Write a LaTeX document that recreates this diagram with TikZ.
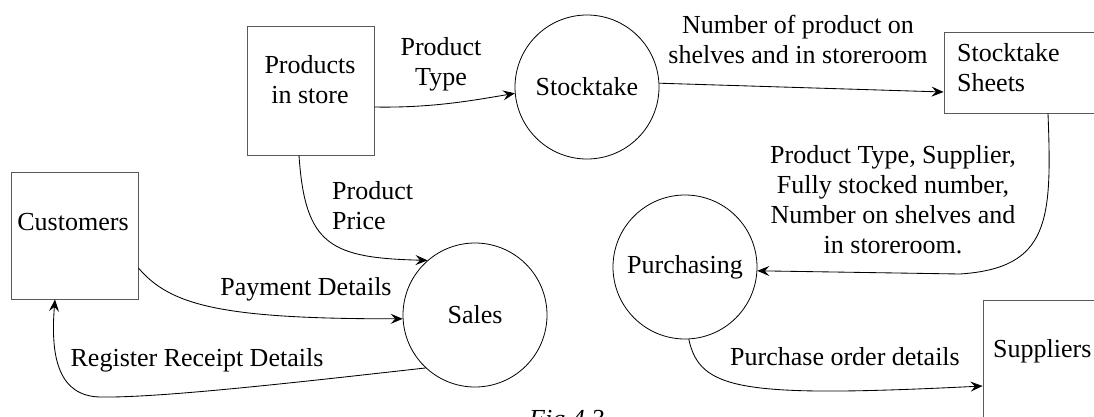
\documentclass[tikz,border=0pt]{standalone}
\usepackage{fontspec}
\setmainfont{Liberation Serif}
\usetikzlibrary{arrows.meta}
\begin{document}
\begin{tikzpicture}[x=1pt,y=-1pt,
  every node/.style={font=\fontsize{26}{30}\selectfont, inner sep=0pt},
  store/.style={draw=black!65, line width=0.9pt, rectangle},
  proc/.style={draw=black, line width=0.8pt, circle, minimum size=144pt},
  flow/.style={draw=black, line width=0.85pt, -{Stealth[length=12pt,width=10pt,inset=4.5pt]}},
  lbl/.style={align=center}]
\useasboundingbox (0,0) rectangle (1094,416);
\clip (0,0) rectangle (1094,416);

% external entities and data stores
\node[store, minimum width=127pt, minimum height=129pt] (prod) at (310.5,90.5) {};
\node[lbl] (prodt) at (310,80) {Products\\in store};
\node[store, minimum width=127pt, minimum height=127pt] (cust) at (74.5,235.5) {};
\node (custt) at (73,222) {Customers};
\node[store, minimum width=166pt, minimum height=81pt] (sheets) at (1027,72.5) {};
\node[align=left, anchor=west] (sheetst) at (957,68) {Stocktake\\Sheets};
\node[store, minimum width=127pt, minimum height=140pt] (sup) at (1046.5,370) {};
\node[anchor=west] (supt) at (993,351) {Suppliers};

% processes
\node[proc] (stock) at (587,87) {Stocktake};
\node[proc] (sales) at (475,315) {Sales};
\node[proc] (purch) at (685,267) {Purchasing};

% data flows
\draw[flow] ([yshift=-16.5pt]prod.east) .. controls (430,108) and (470,101) .. (stock.185);
\draw[flow] ([xshift=-11.5pt]prod.south) .. controls (305,245) and (330,258) .. (sales.131);
\draw[flow] ([yshift=-32.5pt]cust.east) .. controls (170,305) and (220,319) .. (sales.183);
\draw[flow] (sales.227) .. controls (300,382) and (160,398) .. (100,397)
  .. controls (60,396) and (50,360) .. ([xshift=-19.5pt]cust.south);
\draw[flow] (stock.3) -- ([yshift=-19.5pt]sheets.west);
\draw[flow] ([xshift=21pt]sheets.south) .. controls (1052,220) and (1050,268) .. (960,274)
  -- (purch.-3);
\draw[flow] (purch.-87) .. controls (700,390) and (740,398) .. ([yshift=-16pt]sup.west);

% flow labels
\node[lbl] (l1) at (441,64) {Product\\Type};
\node[align=left, anchor=west] (l2) at (332,206) {Product\\Price};
\node (l3) at (306,289) {Payment Details};
\node (l4) at (197,360) {Register Receipt Details};
\node[lbl] (l5) at (798,39) {Number of product on\\shelves and in storeroom};
\node[lbl] (l6) at (893,200) {Product Type, Supplier,\\Fully stocked number,\\Number on shelves and\\in storeroom.};
\node (l7) at (845,357) {Purchase order details};

% caption, running off the lower edge
\node[anchor=base west, font=\fontsize{26}{30}\selectfont\itshape] (cap) at (529,427) {Fig 4.3};
\end{tikzpicture}
\end{document}
